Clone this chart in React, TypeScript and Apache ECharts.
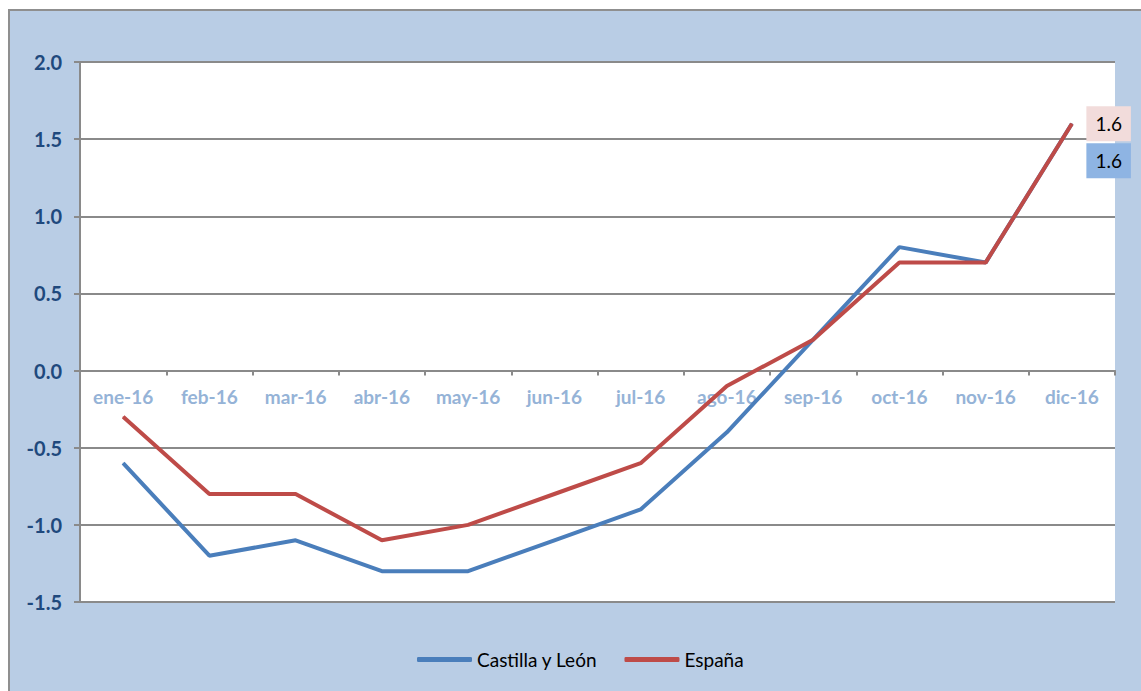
import React, { useEffect, useRef } from "react";
import * as echarts from "echarts";

const months = ["ene-16", "feb-16", "mar-16", "abr-16", "may-16", "jun-16", "jul-16", "ago-16", "sep-16", "oct-16", "nov-16", "dic-16"];
const castillaLeon = [-0.6, -1.2, -1.1, -1.3, -1.3, -1.1, -0.9, -0.4, 0.2, 0.8, 0.7, 1.6];
const espana = [-0.3, -0.8, -0.8, -1.1, -1.0, -0.8, -0.6, -0.1, 0.2, 0.7, 0.7, 1.6];
const seriesNames = ["Castilla y León", "España"];

const FONT = "Lato, 'Noto Sans', sans-serif";
const GRID_COLOR = "#8a8a8a";
const GRID_TOP = 62;
const GRID_BOTTOM_Y = 602;
const Y_MIN = -1.5;
const Y_MAX = 2;

function withEndLabel(values: number[], bg: string, offsetY: number) {
  return values.map((v, i) =>
    i === values.length - 1
      ? {
          value: v,
          label: {
            show: true,
            position: "right",
            distance: 14,
            offset: [0, offsetY],
            backgroundColor: bg,
            color: "#000",
            fontSize: 19,
            lineHeight: 19,
            fontFamily: FONT,
            padding: [8, 9, 8, 9],
            formatter: (p: any) => Number(p.value).toFixed(1),
          },
        }
      : v
  );
}

export default function App() {
  const ref = useRef<HTMLDivElement>(null);
  useEffect(() => {
    if (!ref.current) return;
    const chart = echarts.init(ref.current, undefined, { renderer: "svg" });
    const plotH = GRID_BOTTOM_Y - GRID_TOP;
    const zeroOffset = -(plotH * (0 - Y_MIN)) / (Y_MAX - Y_MIN);
    chart.setOption({
      animation: false,
      backgroundColor: "transparent",
      grid: {
        left: 80,
        top: GRID_TOP,
        right: 26,
        bottom: 691 - GRID_BOTTOM_Y,
        show: true,
        backgroundColor: "#ffffff",
        borderWidth: 0,
      },
      legend: {
        left: 412,
        top: 645,
        icon: "roundRect",
        itemWidth: 55,
        itemHeight: 5,
        itemGap: 27,
        textStyle: { color: "#000", fontSize: 19, fontFamily: FONT },
        data: seriesNames,
      },
      xAxis: {
        type: "category",
        data: months,
        boundaryGap: true,
        offset: zeroOffset,
        axisLine: { show: true, onZero: false, lineStyle: { color: GRID_COLOR, width: 2 } },
        axisTick: { show: true, length: 5, alignWithLabel: false, lineStyle: { color: GRID_COLOR, width: 2 } },
        axisLabel: {
          color: "#95B3D7",
          fontWeight: "bold",
          fontSize: 19,
          fontFamily: FONT,
          margin: 16,
          interval: 0,
        },
        splitLine: { show: false },
      },
      yAxis: {
        type: "value",
        min: Y_MIN,
        max: Y_MAX,
        interval: 0.5,
        axisLine: { show: true, lineStyle: { color: GRID_COLOR, width: 2 } },
        axisTick: { show: true, length: 6, lineStyle: { color: GRID_COLOR, width: 2 } },
        axisLabel: {
          color: "#1F497D",
          fontWeight: "bold",
          fontSize: 20,
          fontFamily: FONT,
          margin: 18,
          formatter: (v: number) => v.toFixed(1),
        },
        splitLine: { show: true, lineStyle: { color: GRID_COLOR, width: 2 } },
      },
      series: [
        {
          name: seriesNames[0],
          type: "line",
          data: withEndLabel(castillaLeon, "#8EB4E3", 37),
          symbol: "circle",
          symbolSize: 1,
          showSymbol: true,
          lineStyle: { color: "#4A7EBB", width: 4 },
          itemStyle: { color: "#4A7EBB" },
          z: 3,
        },
        {
          name: seriesNames[1],
          type: "line",
          data: withEndLabel(espana, "#F2DCDB", 0),
          symbol: "circle",
          symbolSize: 1,
          showSymbol: true,
          lineStyle: { color: "#BE4B48", width: 4 },
          itemStyle: { color: "#BE4B48" },
          z: 4,
        },
      ],
    });
    return () => chart.dispose();
  }, []);

  return (
    <div style={{ position: "fixed", left: 0, top: 0, width: 1141, height: 691, overflow: "hidden", background: "#fff" }}>
      <div
        style={{
          position: "absolute",
          left: 8,
          top: 9,
          width: 1200,
          height: 800,
          background: "#B9CDE5",
          borderLeft: "2px solid #8f8f8f",
          borderTop: "2px solid #8f8f8f",
        }}
      />
      <div ref={ref} style={{ position: "absolute", left: 0, top: 0, width: 1141, height: 691 }} />
    </div>
  );
}
